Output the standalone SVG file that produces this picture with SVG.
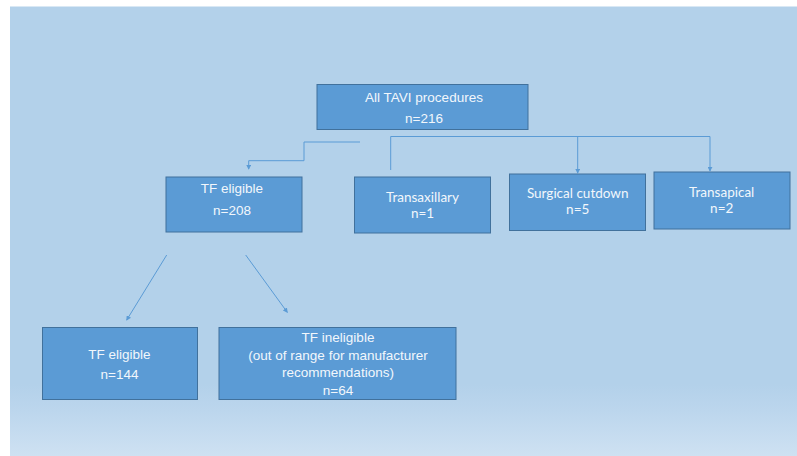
<svg xmlns="http://www.w3.org/2000/svg" width="797" height="456" viewBox="0 0 797 456">
  <defs>
    <linearGradient id="bg" x1="0" y1="0" x2="0" y2="1">
      <stop offset="0" stop-color="#b3d1ea"/>
      <stop offset="0.84" stop-color="#b3d1ea"/>
      <stop offset="0.9" stop-color="#bcd6ed"/>
      <stop offset="1" stop-color="#cee1f2"/>
    </linearGradient>
    <marker id="arrow" viewBox="0 0 6 6" refX="5" refY="3" markerWidth="5" markerHeight="5" markerUnits="userSpaceOnUse" orient="auto">
      <path d="M0,0 L6,3 L0,6 Z" fill="#5b9bd5"/>
    </marker>
    <style>
      .box { fill: #5b9bd5; stroke: #41719c; stroke-width: 1; }
      .lbl { fill: #f2f7fc; text-anchor: middle; }
      .arial { font-family: "Liberation Sans", Arial, sans-serif; font-size: 13.5px; }
      .cal { font-family: Lato, "Open Sans", sans-serif; font-size: 13.5px; }
      .conn { fill: none; stroke: #5b9bd5; stroke-width: 1; marker-end: url(#arrow); }
    </style>
  </defs>

  <rect x="0" y="0" width="797" height="456" fill="#ffffff"/>
  <rect x="10" y="6.5" width="787" height="449.5" fill="url(#bg)"/>

  <g id="connectors">
    <path class="conn" d="M360,142 H304 V160.7 H248.7 V169"/>
    <path class="conn" d="M390.7,170 V136.5 H710 V171"/>
    <path class="conn" d="M577.7,136.5 V173"/>
    <path class="conn" d="M166.7,255 L126.7,320"/>
    <path class="conn" d="M245.7,255 L287.3,312.3"/>
  </g>

  <g id="all-tavi">
    <rect class="box" x="317" y="84.5" width="211" height="45"/>
    <text class="lbl arial" x="424" y="102">All TAVI procedures</text>
    <text class="lbl arial" x="424" y="123">n=216</text>
  </g>

  <g id="tf-eligible">
    <rect class="box" x="166" y="177" width="136" height="55"/>
    <text class="lbl arial" x="232" y="193">TF eligible</text>
    <text class="lbl arial" x="232" y="215">n=208</text>
  </g>

  <g id="transaxillary">
    <rect class="box" x="354.5" y="177" width="136" height="56"/>
    <text class="lbl cal" x="422.5" y="201.5">Transaxillary</text>
    <text class="lbl cal" x="422.5" y="218">n=1</text>
  </g>

  <g id="surgical-cutdown">
    <rect class="box" x="509.5" y="174" width="136" height="56.5"/>
    <text class="lbl cal" x="577.7" y="197.5">Surgical cutdown</text>
    <text class="lbl cal" x="577.7" y="214.3">n=5</text>
  </g>

  <g id="transapical">
    <rect class="box" x="654" y="172" width="136" height="57"/>
    <text class="lbl cal" x="721.7" y="196.7">Transapical</text>
    <text class="lbl cal" x="721.7" y="213.3">n=2</text>
  </g>

  <g id="tf-eligible-final">
    <rect class="box" x="42.5" y="327.5" width="155" height="72"/>
    <text class="lbl arial" x="119.5" y="359">TF eligible</text>
    <text class="lbl arial" x="119.5" y="379">n=144</text>
  </g>

  <g id="tf-ineligible">
    <rect class="box" x="219" y="327.5" width="237" height="72"/>
    <text class="lbl arial" x="338" y="341.7">TF ineligible</text>
    <text class="lbl arial" x="338" y="360">(out of range for manufacturer</text>
    <text class="lbl arial" x="338" y="377.3">recommendations)</text>
    <text class="lbl arial" x="338" y="395">n=64</text>
  </g>
</svg>
